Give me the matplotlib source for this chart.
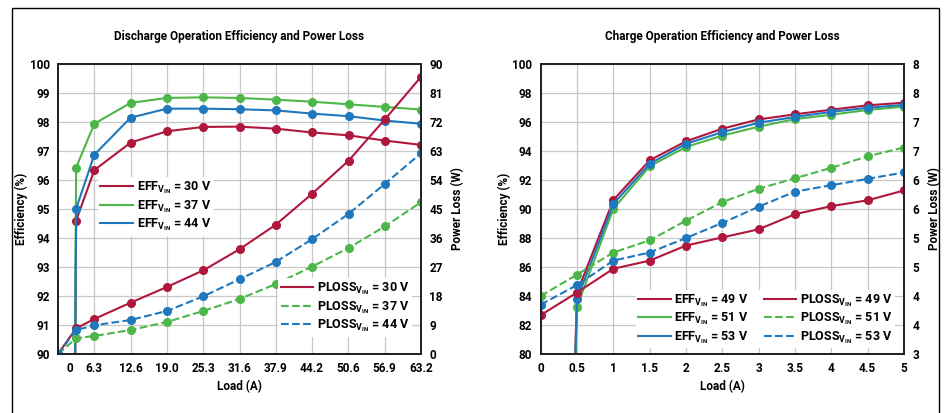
import numpy as np
import matplotlib
matplotlib.use('Agg')
import matplotlib.pyplot as plt
from matplotlib.patches import Rectangle

plt.rcParams['font.family'] = ['Roboto', 'DejaVu Sans']
plt.rcParams['font.weight'] = 'bold'
plt.rcParams['axes.titleweight'] = 'bold'
plt.rcParams['axes.labelweight'] = 'bold'
plt.rcParams['mathtext.fontset'] = 'custom'
plt.rcParams['mathtext.rm'] = 'Roboto:bold'
plt.rcParams['mathtext.it'] = 'Roboto:bold'
plt.rcParams['mathtext.bf'] = 'Roboto:bold'

# colours
RED = '#b0173c'
GREEN = '#4cb748'
BLUE = '#1f78bd'

# discharge data (left chart)
loadD = [0, 3.16, 6.32, 12.64, 18.96, 25.3, 31.6, 37.9, 44.2, 50.6, 56.9, 63.2]
eff30 = [0, 94.6, 96.34, 97.29, 97.68, 97.83, 97.84, 97.77, 97.64, 97.54, 97.36, 97.21]
eff37 = [0, 96.43, 97.94, 98.66, 98.83, 98.85, 98.83, 98.77, 98.70, 98.61, 98.52, 98.43]
eff44 = [0, 95.01, 96.87, 98.15, 98.46, 98.46, 98.44, 98.40, 98.29, 98.20, 98.05, 97.94]
ploss30 = [0, 7.97, 10.86, 15.93, 20.8, 25.97, 32.5, 40.1, 49.66, 60.0, 72.8, 86.0]
ploss37 = [0, 4.86, 5.59, 7.45, 9.93, 13.35, 17.07, 21.7, 27.1, 32.9, 39.6, 47.1]
ploss44 = [0, 7.45, 8.9, 10.55, 13.35, 17.9, 23.2, 28.55, 35.6, 43.5, 52.8, 62.3]
xticksD = [6.32, 12.64, 18.96, 25.28, 31.6, 37.92, 44.24, 50.56, 56.88, 63.2]
xlabelsD = ['6.3', '12.6', '19.0', '25.3', '31.6', '37.9', '44.2', '50.6', '56.9', '63.2']

# charge data (right chart)
loadC = [0, 0.5, 1.0, 1.5, 2.0, 2.5, 3.0, 3.5, 4.0, 4.5, 5.0]
eff49 = [0, 84.23, 90.62, 93.36, 94.67, 95.54, 96.18, 96.53, 96.85, 97.15, 97.33]
eff51 = [0, 83.26, 90.02, 92.95, 94.28, 95.06, 95.68, 96.2, 96.5, 96.83, 97.06]
eff53 = [0, 83.77, 90.35, 93.12, 94.5, 95.3, 95.95, 96.35, 96.7, 96.98, 97.18]
ploss49 = [3.67, 4.06, 4.47, 4.61, 4.87, 5.01, 5.15, 5.41, 5.55, 5.65, 5.82]
ploss51 = [4.0, 4.37, 4.75, 4.96, 5.30, 5.62, 5.85, 6.03, 6.21, 6.41, 6.56]
ploss53 = [3.85, 4.19, 4.61, 4.75, 5.0, 5.26, 5.54, 5.80, 5.91, 6.02, 6.13]
xlabelsC = ['0', '0.5', '1', '1.5', '2', '2.5', '3', '3.5', '4', '4.5', '5']
ylabelsC_right = ['3', '4', '4', '5', '5', '6', '6', '7', '7', '8', '8']

fs = 8.5
lw = 1.5
ms = 5.5

fig = plt.figure(figsize=(9.46, 4.13), dpi=100)

# outer frame
fig.patches.append(Rectangle((12/946, -0.1), 927/946, 1.1 - 7.5/413, transform=fig.transFigure,
                             fill=False, edgecolor='black', linewidth=1.0))


def style(ax):
  for s in ax.spines.values():
    s.set_color('#222222')
    s.set_linewidth(1.3)
  ax.tick_params(which='both', length=0, labelsize=fs, pad=6)
  ax.grid(True, which='major', color='#c8c8c8', linewidth=0.9)
  ax.set_axisbelow(True)


def boldticks(ax):
  for t in ax.get_xticklabels(which='both') + ax.get_yticklabels(which='both'):
    t.set_fontweight('bold')


def sub(name, v):
  return name + r'$_{\mathrm{V}_{\mathrm{IN}}}$' + ' = %d V' % v


def mklegend(ax, **kw):
  leg = ax.legend(fontsize=fs + 0.5, frameon=True, framealpha=1, edgecolor='none',
                  handlelength=2.6, handletextpad=0.3, labelspacing=0.15, borderpad=0.2,
                  borderaxespad=0, **kw)
  for h in leg.get_lines():
    h.set_marker('')
  return leg


# ---- left chart ----
ax1 = fig.add_axes([58/946, 59/413, 363/946, 290/413])
style(ax1)
ax1.plot(loadD, eff30, c=RED, lw=lw, marker='o', ms=ms, label=sub('EFF', 30))
ax1.plot(loadD, eff37, c=GREEN, lw=lw, marker='o', ms=ms, label=sub('EFF', 37))
ax1.plot(loadD, eff44, c=BLUE, lw=lw, marker='o', ms=ms, label=sub('EFF', 44))
ax1.set_xlim(0, 63.2)
ax1.set_ylim(90, 100)
ax1.set_xticks(xticksD)
ax1.set_xticklabels(xlabelsD)
ax1.set_xticks([2.1], minor=True)
ax1.set_xticklabels(['0'], minor=True)
ax1.set_yticks(np.arange(90, 101, 1))
ax1.set_xlabel('Load (A)', fontsize=fs, labelpad=3)
ax1.set_ylabel('Efficiency (%)', fontsize=fs, labelpad=1)
ax1.set_title('Discharge Operation Efficiency and Power Loss', fontsize=fs, pad=17)
mklegend(ax1, loc='upper left', bbox_to_anchor=(0.11, 0.61))
boldticks(ax1)

ax1b = ax1.twinx()
style(ax1b)
ax1b.grid(False)
ax1b.plot(loadD, ploss30, c=RED, lw=lw, marker='o', ms=ms, label=sub('PLOSS', 30))
ax1b.plot(loadD, ploss37, c=GREEN, lw=lw, ls='--', marker='o', ms=ms, label=sub('PLOSS', 37))
ax1b.plot(loadD, ploss44, c=BLUE, lw=lw, ls='--', marker='o', ms=ms, label=sub('PLOSS', 44))
ax1b.set_ylim(0, 90)
ax1b.set_yticks(np.arange(0, 91, 9))
ax1b.set_ylabel('Power Loss (W)', fontsize=fs, labelpad=6)
mklegend(ax1b, loc='lower right', bbox_to_anchor=(0.975, 0.06))
boldticks(ax1b)

# ---- right chart ----
ax2 = fig.add_axes([540.7/946, 59/413, 363.3/946, 290/413])
style(ax2)
e49, = ax2.plot(loadC, eff49, c=RED, lw=lw, marker='o', ms=ms, label=sub('EFF', 49))
e51, = ax2.plot(loadC, eff51, c=GREEN, lw=lw, marker='o', ms=ms, label=sub('EFF', 51))
e53, = ax2.plot(loadC, eff53, c=BLUE, lw=lw, marker='o', ms=ms, label=sub('EFF', 53))
ax2.set_xlim(0, 5)
ax2.set_ylim(80, 100)
ax2.set_xticks(np.arange(0, 5.01, 0.5))
ax2.set_xticklabels(xlabelsC)
ax2.set_yticks(np.arange(80, 101, 2))
ax2.set_xlabel('Load (A)', fontsize=fs, labelpad=3)
ax2.set_ylabel('Efficiency (%)', fontsize=fs, labelpad=1)
ax2.set_title('Charge Operation Efficiency and Power Loss', fontsize=fs, pad=17)
boldticks(ax2)

ax2b = ax2.twinx()
style(ax2b)
ax2b.grid(False)
p49, = ax2b.plot(loadC, ploss49, c=RED, lw=lw, marker='o', ms=ms, label=sub('PLOSS', 49))
p51, = ax2b.plot(loadC, ploss51, c=GREEN, lw=lw, ls='--', marker='o', ms=ms, label=sub('PLOSS', 51))
p53, = ax2b.plot(loadC, ploss53, c=BLUE, lw=lw, ls='--', marker='o', ms=ms, label=sub('PLOSS', 53))
ax2b.set_ylim(3, 8)
ax2b.set_yticks(np.arange(3, 8.01, 0.5))
ax2b.set_yticklabels(ylabelsC_right)
ax2b.set_ylabel('Power Loss (W)', fontsize=fs, labelpad=6)
mklegend(ax2b, handles=[e49, e51, e53, p49, p51, p53], ncol=2, loc='lower right',
         bbox_to_anchor=(0.975, 0.02), columnspacing=1.2)
boldticks(ax2b)

fig.savefig('out.png', dpi=100)
